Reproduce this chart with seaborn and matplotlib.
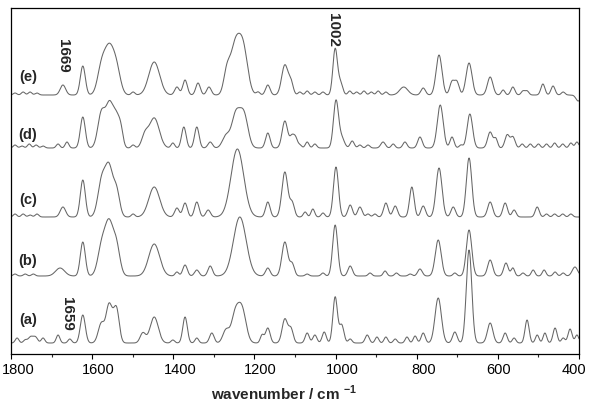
"""
Stacked Raman spectra (a)-(e), 1800-400 cm-1
"""

import numpy as np
import pandas as pd
import matplotlib
matplotlib.use('Agg')
import matplotlib.pyplot as plt
import seaborn as sns
from matplotlib.transforms import ScaledTranslation

# peak tables: (wavenumber, height, width)
peaks_a = [
    (1785, 5, 4), (1765, 3, 4), (1752, 6, 5), (1740, 6, 5), (1721, 5, 4),
    (1684, 8, 4), (1655, 4, 4), (1623, 28, 5.5),
    (1577, 20, 7), (1559, 35, 6), (1550, 10, 5), (1540, 34, 6),
    (1475, 10, 6), (1447, 26, 9), (1401, 3, 4), (1371, 26, 5), (1342, 5, 4),
    (1305, 10, 5), (1270, 13, 7), (1248, 26, 8), (1231, 34, 9),
    (1181, 8, 4), (1167, 15, 5), (1125, 24, 6), (1110, 14, 5),
    (1070, 10, 4.5), (1051, 8, 4.5), (1028, 11, 4.5), (1001, 46, 5), (985, 18, 5),
    (964, 4, 4), (922, 8, 4.5), (898, 6, 4), (876, 6, 4), (853, 4, 4),
    (824, 6, 4), (804, 7, 4), (784, 10, 4.5), (747, 45, 7), (706, 11, 5),
    (671, 93, 6), (619, 20, 6), (582, 10, 4.5), (560, 5, 4), (528, 23, 4.5),
    (503, 8, 4), (484, 10, 4), (459, 15, 4.5), (439, 5, 4), (422, 14, 4.5),
    (405, 8, 4),
]
peaks_b = [
    (1790, 2, 4), (1765, 2, 4), (1745, 2, 4), (1679, 8, 10), (1623, 34, 5.5),
    (1575, 33, 9), (1558, 44, 8), (1541, 32, 8), (1447, 32, 12),
    (1391, 4, 4), (1371, 11, 5), (1342, 6, 5), (1309, 10, 5), (1236, 59, 14),
    (1167, 8, 5), (1125, 34, 6.5), (1107, 12, 5), (1070, 2, 4), (1031, 3, 4),
    (1001, 51, 5.5), (964, 10, 5), (915, 3, 4), (878, 5, 4), (850, 3, 4),
    (816, 2, 4), (792, 7, 5), (747, 36, 6.5), (706, 3, 4), (671, 46, 6),
    (619, 16, 5.5), (580, 13, 5), (563, 8, 4), (538, 3, 4), (513, 6, 4),
    (486, 6, 4), (459, 4, 4), (439, 3, 4), (410, 9, 6),
]
peaks_c = [
    (1790, 3, 4), (1770, 3, 4), (1753, 2, 4), (1736, 3, 4), (1672, 10, 6),
    (1623, 37, 5.5), (1576, 37, 8.5), (1558, 46, 8), (1540, 26, 7),
    (1499, 3, 4), (1447, 30, 12), (1391, 9, 5), (1371, 14, 5), (1342, 15, 5),
    (1314, 7, 5), (1242, 68, 14), (1167, 15, 5), (1125, 45, 6.5), (1107, 14, 5),
    (1075, 5, 4), (1056, 8, 4), (1031, 4, 4), (999, 50, 5.5),
    (964, 12, 5), (940, 10, 5), (920, 3, 4), (903, 3, 4), (876, 14, 5),
    (853, 11, 5), (812, 30, 5), (784, 11, 5), (745, 49, 6.5), (710, 10, 5),
    (671, 59, 6), (619, 15, 5.5), (582, 14, 5), (560, 7, 4.5), (503, 10, 4.5),
    (480, 3, 4), (460, 3, 4), (440, 3, 4), (420, 3, 4),
]
peaks_d = [
    (1790, 3, 4), (1773, 2, 4), (1755, 4, 4), (1738, 3, 4), (1721, 2, 4),
    (1684, 4, 4), (1662, 6, 4), (1623, 31, 5.5),
    (1577, 35, 8), (1557, 42, 8), (1540, 28, 7), (1529, 14, 5),
    (1499, 3, 4), (1470, 12, 7), (1447, 30, 11), (1401, 5, 4), (1374, 21, 5),
    (1342, 21, 5), (1309, 6, 5), (1270, 12, 8), (1246, 33, 9), (1226, 33, 9),
    (1167, 15, 5), (1125, 27, 6), (1107, 12, 5), (1098, 8, 4),
    (1088, 3, 4), (1070, 6, 4), (1051, 4, 4), (999, 47, 5.5), (985, 10, 6),
    (959, 7, 4.5), (940, 3, 4), (920, 3, 4), (883, 6, 5), (858, 4, 4),
    (829, 6, 4.5), (792, 11, 5), (742, 43, 6.5), (713, 11, 4.5), (691, 3, 4),
    (669, 34, 6), (619, 16, 5.5), (605, 9, 4), (577, 13, 5), (563, 11, 5),
    (540, 4, 4), (520, 4, 4), (500, 4, 4), (480, 4, 4), (460, 5, 4),
    (440, 4, 4), (420, 5, 4), (405, 6, 4),
]
peaks_e = [
    (1790, 2, 4), (1770, 3, 4), (1753, 3, 4), (1736, 2, 4), (1672, 10, 6),
    (1623, 29, 5.5), (1576, 30, 9), (1558, 39, 9), (1541, 28, 9),
    (1499, 3, 4), (1447, 33, 12), (1391, 8, 5), (1371, 15, 5), (1339, 12, 5),
    (1312, 8, 5), (1268, 22, 7), (1248, 46, 10), (1228, 46, 10),
    (1191, 3, 4), (1167, 10, 5), (1125, 30, 7), (1110, 12, 5),
    (1088, 3, 4), (1070, 4, 4), (1051, 3, 4), (1031, 3, 4), (1001, 46, 5),
    (988, 12, 5), (965, 4, 4), (948, 3, 4), (930, 4, 4), (912, 3, 4),
    (895, 4, 4), (876, 3, 4), (832, 8, 9), (784, 7, 5), (745, 40, 6.5),
    (713, 13, 5), (701, 13, 5), (671, 32, 6.5), (619, 18, 6), (587, 5, 4),
    (563, 8, 4.5), (538, 4, 4), (528, 4, 4), (489, 11, 4.5), (464, 9, 4.5),
    (439, 3, 4), (402, -6, 5),
]

spectrum_names = ['(a)', '(b)', '(c)', '(d)', '(e)']
spectrum_peaks = [peaks_a, peaks_b, peaks_c, peaks_d, peaks_e]
offsets = [11, 78, 137, 206, 259]
label_y = [34, 93, 154, 219, 277]

# band annotations: (text, wavenumber, height)
annotations = [('1669', 1672, 298), ('1002', 1006, 324), ('1659', 1662, 40)]

tick_values = [1800, 1600, 1400, 1200, 1000, 800, 600, 400]
minor_values = [1700, 1500, 1300, 1100, 900, 700, 500]

wavenumber = np.arange(1800, 399, -1.0)
BROADEN = 1.12  # instrument smoothing


def build_spectrum(peaks, offset):
    y = np.full_like(wavenumber, float(offset))
    for pos, height, width in peaks:
        w = width * BROADEN
        y += height * np.exp(-0.5 * ((wavenumber - pos) / w) ** 2)
    return y


frames = []
for name, peaks, off in zip(spectrum_names, spectrum_peaks, offsets):
    frames.append(pd.DataFrame({
        'wavenumber': wavenumber,
        'intensity': build_spectrum(peaks, off),
        'spectrum': name,
    }))
df = pd.concat(frames, ignore_index=True)

sns.set_theme(style='ticks')
plt.rcParams['font.family'] = ['Liberation Sans', 'DejaVu Sans']
plt.rcParams['mathtext.fontset'] = 'custom'
plt.rcParams['mathtext.bf'] = 'Liberation Sans:bold'
plt.rcParams['mathtext.rm'] = 'Liberation Sans'

fig = plt.figure(figsize=(6.0, 4.07), dpi=100)
ax = fig.add_axes([11 / 600, 1 - 354 / 407, 568 / 600, 346 / 407])

sns.lineplot(data=df, x='wavenumber', y='intensity', hue='spectrum',
             palette=['#666666'] * 5, legend=False, linewidth=0.75,
             estimator=None, sort=False, ax=ax)

ax.set_xlim(1800, 400)
ax.set_ylim(0, 346)
ax.set_yticks([])
ax.set_xticks(tick_values)
ax.set_xticks(minor_values, minor=True)
ax.tick_params(axis='x', which='major', direction='out', length=3.5, width=0.8,
               labelsize=10.5, pad=3, colors='black', top=False)
ax.tick_params(axis='x', which='minor', direction='out', length=2.5, width=0.8,
               top=False)
for side in ['left', 'right', 'top', 'bottom']:
    ax.spines[side].set_visible(True)
    ax.spines[side].set_color('black')
    ax.spines[side].set_linewidth(0.9)

# tick labels sit a little right of their ticks in the original
shifts = [7, 6, 7, 6, 7, 7, 1, -5]
for lab, dx in zip(ax.get_xticklabels(), shifts):
    lab.set_transform(lab.get_transform() +
                      ScaledTranslation(dx / 100, 0, fig.dpi_scale_trans))

ax.set_ylabel('')
ax.set_xlabel(r'wavenumber / cm $^{\mathbf{-1}}$', fontsize=11,
              fontweight='bold')
ax.xaxis.set_label_coords(0.48, -0.085)

for name, ly in zip(spectrum_names, label_y):
    ax.text(1758, ly, name, fontsize=10.5, fontweight='bold',
            ha='center', va='center')

for text, wn, h in annotations:
    ax.text(wn, h, text, fontsize=11, fontweight='bold', rotation=-90,
            ha='center', va='center')

fig.savefig('out.png', dpi=100)
plt.close(fig)
